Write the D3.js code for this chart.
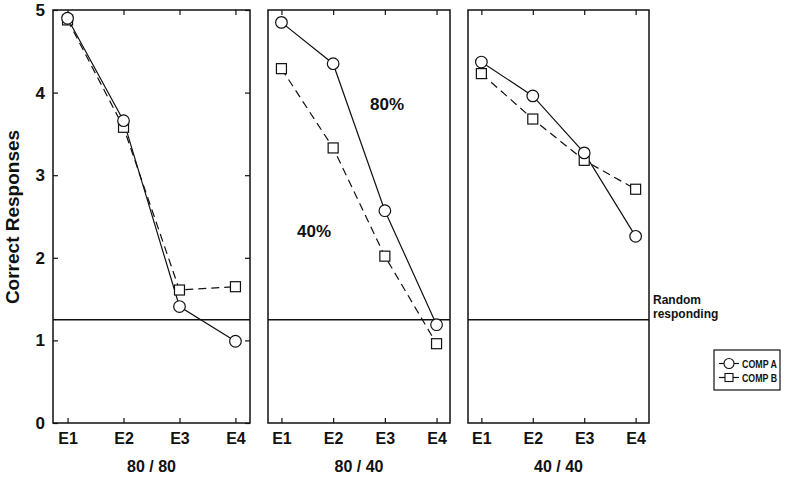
<!DOCTYPE html>
<html>
<head>
<meta charset="utf-8">
<script src="https://cdn.jsdelivr.net/npm/d3@7"></script>
<style>
  body { margin: 0; background: #fff; }
  svg text { font-family: "Liberation Sans", Arial, sans-serif; font-weight: bold; fill: #111; }
</style>
</head>
<body>
<div id="chart"></div>
<script>
// data
const sessions = ['E1', 'E2', 'E3', 'E4'];
const conditions = ['80 / 80', '80 / 40', '40 / 40'];
const compA = [
    [4.90, 3.66, 1.41, 0.99],
    [4.85, 4.35, 2.57, 1.19],
    [4.37, 3.96, 3.27, 2.26]
];
const compB = [
    [4.88, 3.58, 1.61, 1.65],
    [4.29, 3.33, 2.02, 0.96],
    [4.23, 3.68, 3.18, 2.83]
];
const yTicks = [0, 1, 2, 3, 4, 5];
const randomLevel = 1.25;

let width = 786,
    height = 479,
    plotTop = 10,
    plotBottom = 423,
    // panel extents in px
    panels = [[53, 250], [268, 450], [468, 649]];

let svg = d3.select('#chart')
    .append('svg')
    .attr('width', width)
    .attr('height', height);

let yScale = d3.scaleLinear()
    .domain([0, 5])
    .range([plotBottom, plotTop]);

let line = x => d3.line()
    .x((d, i) => x(sessions[i]))
    .y(d => yScale(d));

panels.forEach((p, k) => {
    let xScale = d3.scalePoint()
        .domain(sessions)
        .range(p)
        .padding(0.26);

    let g = svg.append('g');

    // frame
    g.append('rect')
        .attr('x', p[0])
        .attr('y', plotTop)
        .attr('width', p[1] - p[0])
        .attr('height', plotBottom - plotTop)
        .attr('fill', 'none')
        .attr('stroke', '#111')
        .attr('stroke-width', 1.5);

    // bottom axis (ticks inward)
    let xb = g.append('g')
        .attr('transform', `translate(0,${plotBottom})`)
        .call(d3.axisBottom(xScale).tickSizeInner(-5).tickSizeOuter(0).tickPadding(10));
    xb.select('.domain').remove();
    xb.selectAll('line').attr('stroke', '#111').attr('stroke-width', 1.2);
    xb.selectAll('text').style('font-size', '16px').attr('fill', '#111');

    // top ticks
    let xt = g.append('g')
        .attr('transform', `translate(0,${plotTop})`)
        .call(d3.axisTop(xScale).tickSizeInner(-5).tickSizeOuter(0).tickFormat(''));
    xt.select('.domain').remove();
    xt.selectAll('line').attr('stroke', '#111').attr('stroke-width', 1.2);

    if (k === 0) {
        let yl = g.append('g')
            .attr('transform', `translate(${p[0]},0)`)
            .call(d3.axisLeft(yScale).tickValues(yTicks).tickFormat(d3.format('d'))
                .tickSizeInner(-5).tickSizeOuter(0).tickPadding(8));
        yl.select('.domain').remove();
        yl.selectAll('line').attr('stroke', '#111').attr('stroke-width', 1.2);
        yl.selectAll('text').style('font-size', '17px').attr('fill', '#111');

        let yr = g.append('g')
            .attr('transform', `translate(${p[1]},0)`)
            .call(d3.axisRight(yScale).tickValues(yTicks).tickSizeInner(-5).tickSizeOuter(0).tickFormat(''));
        yr.select('.domain').remove();
        yr.selectAll('line').attr('stroke', '#111').attr('stroke-width', 1.2);
    }

    // random responding line
    g.append('line')
        .attr('x1', p[0])
        .attr('x2', p[1])
        .attr('y1', yScale(randomLevel))
        .attr('y2', yScale(randomLevel))
        .attr('stroke', '#111')
        .attr('stroke-width', 1.4);

    // condition label
    g.append('text')
        .attr('x', (p[0] + p[1]) / 2)
        .attr('y', 472)
        .attr('text-anchor', 'middle')
        .style('font-size', '16px')
        .text(conditions[k]);

    // series lines
    g.append('path')
        .datum(compB[k])
        .attr('d', line(xScale))
        .attr('fill', 'none')
        .attr('stroke', '#111')
        .attr('stroke-width', 1.2)
        .attr('stroke-dasharray', '8,5');

    g.append('path')
        .datum(compA[k])
        .attr('d', line(xScale))
        .attr('fill', 'none')
        .attr('stroke', '#111')
        .attr('stroke-width', 1.2);

    // markers
    g.selectAll('.sq')
        .data(compB[k]).enter()
        .append('rect')
        .attr('x', (d, i) => xScale(sessions[i]) - 5)
        .attr('y', d => yScale(d) - 5)
        .attr('width', 10)
        .attr('height', 10)
        .attr('fill', '#fff')
        .attr('stroke', '#111')
        .attr('stroke-width', 1.2);

    g.selectAll('.ci')
        .data(compA[k]).enter()
        .append('circle')
        .attr('cx', (d, i) => xScale(sessions[i]))
        .attr('cy', d => yScale(d))
        .attr('r', 5.8)
        .attr('fill', '#fff')
        .attr('stroke', '#111')
        .attr('stroke-width', 1.2);
});

// y axis title
svg.append('text')
    .attr('transform', 'translate(19,217) rotate(-90)')
    .attr('text-anchor', 'middle')
    .style('font-size', '19px')
    .text('Correct Responses');

// annotations in middle panel
svg.append('text').attr('x', 370).attr('y', 110).style('font-size', '17px').text('80%');
svg.append('text').attr('x', 297).attr('y', 237).style('font-size', '17px').text('40%');

// random responding label
svg.append('text').attr('x', 653).attr('y', 304).style('font-size', '12px').text('Random');
svg.append('text').attr('x', 653).attr('y', 318).style('font-size', '12px').text('responding');

// legend
let legend = svg.append('g');
legend.append('rect')
    .attr('x', 714).attr('y', 350)
    .attr('width', 66).attr('height', 40)
    .attr('fill', '#fff')
    .attr('stroke', '#111')
    .attr('stroke-width', 1.2);

[['COMP A', 'circle'], ['COMP B', 'square']].forEach((e, i) => {
    let cy = 363.5 + i * 14;
    legend.append('line')
        .attr('x1', 719).attr('x2', 739)
        .attr('y1', cy).attr('y2', cy)
        .attr('stroke', '#111').attr('stroke-width', 1.2);
    if (e[1] === 'circle') {
        legend.append('circle').attr('cx', 729).attr('cy', cy).attr('r', 5)
            .attr('fill', '#fff').attr('stroke', '#111').attr('stroke-width', 1.1);
    } else {
        legend.append('rect').attr('x', 725).attr('y', cy - 4).attr('width', 8).attr('height', 8)
            .attr('fill', '#fff').attr('stroke', '#111').attr('stroke-width', 1.1);
    }
    legend.append('text')
        .attr('x', 742).attr('y', cy + 4)
        .attr('textLength', 35)
        .attr('lengthAdjust', 'spacingAndGlyphs')
        .style('font-size', '11px')
        .text(e[0]);
});
</script>
</body>
</html>
